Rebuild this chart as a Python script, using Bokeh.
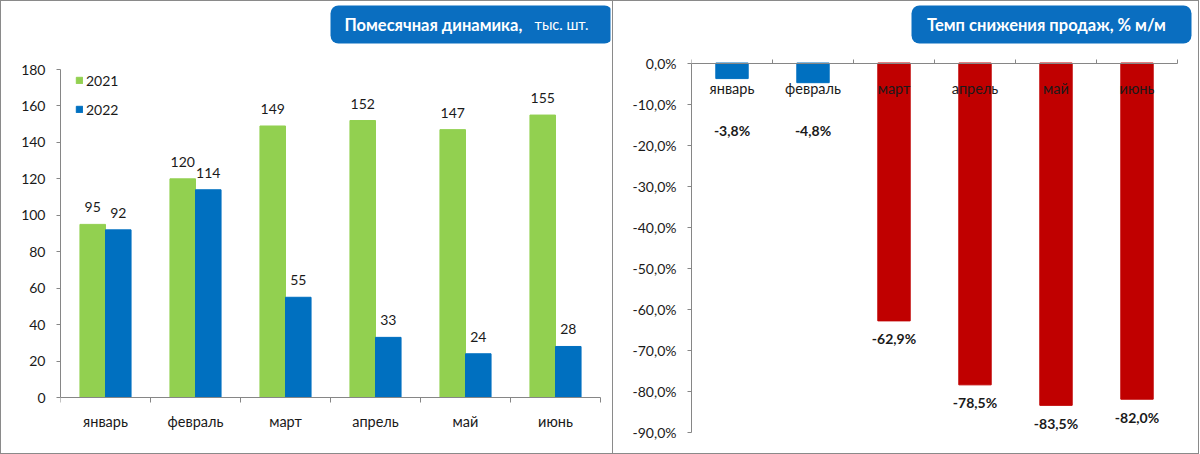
from bokeh.plotting import figure
from bokeh.models import (Range1d, FixedTicker, CustomJSTickFormatter,
                          ColumnDataSource, Legend, LegendItem)
from bokeh.layouts import row
from bokeh.embed import file_html
from bokeh.resources import INLINE
from bokeh.core.properties import value

# ---------------- data ----------------
months = ["январь", "февраль", "март", "апрель", "май", "июнь"]
sales_2021 = [95, 120, 149, 152, 147, 155]
sales_2022 = [92, 114, 55, 33, 24, 28]
decline_pct = [-3.8, -4.8, -62.9, -78.5, -83.5, -82.0]
left_ticks = [0, 20, 40, 60, 80, 100, 120, 140, 160, 180]
right_ticks = [0, -10, -20, -30, -40, -50, -60, -70, -80, -90]
series_names = ["2021", "2022"]
title_left_bold = "Помесячная динамика,"
title_left_normal = "тыс. шт."
title_right = "Темп снижения продаж, % м/м"

# ---------------- style ----------------
FONT = "Lato"
GREEN = "#92D050"
BLUE = "#0070C0"
RED = "#C00000"
BOXBLUE = "#0A6EC0"
AXIS = "#868686"
TXT = "#1a1a1a"
BORDER = "#8a8a8a"
H = 452
W1, W2 = 611, 586
BOTTOM = 18                   # shared bottom border (frames are aligned in a row)
FRAME_H = H - BOTTOM

centers = [i + 0.5 for i in range(len(months))]
boundaries = list(range(len(months) + 1))
month_fmt = CustomJSTickFormatter(args=dict(labels=months),
                                  code="return labels[Math.floor(tick)] || '';")

# ================= left chart =================
L_LEFT, L_RIGHT = 59, 2
L_CAT = 90.0                 # px per month
L_ZERO = 396.0               # canvas y of value 0
L_PXU = 328.0 / 180.0        # px per unit
p1 = figure(width=W1, height=H, output_backend="svg", toolbar_location=None, title=None,
            x_range=Range1d(0, (W1 - L_LEFT - L_RIGHT) / L_CAT),
            y_range=Range1d(-(FRAME_H - L_ZERO) / L_PXU, L_ZERO / L_PXU),
            min_border_left=L_LEFT, min_border_right=L_RIGHT,
            min_border_top=0, min_border_bottom=BOTTOM)
p1.outline_line_color = None
p1.grid.visible = False


def lx(px):
    return (px - L_LEFT) / L_CAT


def ly(py):
    return (L_ZERO - py) / L_PXU


dx = 0.142
src1 = ColumnDataSource(dict(
    x21=[c - dx for c in centers], x22=[c + dx for c in centers],
    y21=sales_2021, y22=sales_2022,
    t21=[str(v) for v in sales_2021], t22=[str(v) for v in sales_2022]))

r21 = p1.vbar(x="x21", top="y21", bottom=0, width=0.284, source=src1,
              fill_color=GREEN, line_color=GREEN)
r22 = p1.vbar(x="x22", top="y22", bottom=0, width=0.284, source=src1,
              fill_color=BLUE, line_color=BLUE)
for xc, yc, tc in (("x21", "y21", "t21"), ("x22", "y22", "t22")):
    p1.text(x=xc, y=yc, text=tc, source=src1,
            text_align="center", text_baseline="middle", y_offset=-17,
            text_font=value(FONT), text_font_size="14px", text_color=TXT)

# legend: top-left of the frame area, just under the 180 tick
legend = Legend(items=[LegendItem(label=series_names[0], renderers=[r21]),
                       LegendItem(label=series_names[1], renderers=[r22])],
                location=(15, int(FRAME_H - L_ZERO + 279)), padding=0, margin=0,
                spacing=11, glyph_width=8, glyph_height=8, label_height=18,
                label_standoff=3, label_text_font=FONT, label_text_font_size="14px",
                label_text_color=TXT, background_fill_alpha=0, border_line_alpha=0)
p1.add_layout(legend)

xa = p1.xaxis[0]
xa.fixed_location = 0
xa.bounds = (0, len(months))
xa.ticker = FixedTicker(ticks=centers, minor_ticks=boundaries)
xa.formatter = month_fmt
xa.axis_line_color = AXIS
xa.major_tick_in = 0
xa.major_tick_out = 0
xa.minor_tick_in = 0
xa.minor_tick_out = 5
xa.minor_tick_line_color = AXIS
xa.major_label_standoff = 10
xa.major_label_text_font = FONT
xa.major_label_text_font_size = "14.5px"
xa.major_label_text_color = TXT

ya = p1.yaxis[0]
ya.bounds = (left_ticks[0], left_ticks[-1])
ya.ticker = FixedTicker(ticks=left_ticks, minor_ticks=[])
ya.axis_line_color = AXIS
ya.major_tick_line_color = AXIS
ya.major_tick_in = 0
ya.major_tick_out = 4
ya.major_label_standoff = 11
ya.major_label_text_font = FONT
ya.major_label_text_font_size = "14px"
ya.major_label_text_color = TXT

# title box (decoration)
p1.quad(left=[lx(329)], right=[lx(611)], top=[ly(4)], bottom=[ly(42)],
        fill_color=BOXBLUE, line_color=None, border_radius=8)
p1.text(x=[lx(343)], y=[ly(23)], text=[title_left_bold], text_color="white",
        text_font=value(FONT), text_font_style="bold", text_font_size="16.5px",
        text_baseline="middle", text_align="left")
p1.text(x=[lx(587)], y=[ly(23)], text=[title_left_normal], text_color="white",
        text_font=value(FONT), text_font_size="14.5px",
        text_baseline="middle", text_align="right")

# ================= right chart =================
R_LEFT, R_RIGHT = 78, 2
R_CAT = 81.0
R_ZERO = 61.5                 # canvas y of 0 %
R_PXU = 4.1                   # px per percent
p2 = figure(width=W2, height=H, output_backend="svg", toolbar_location=None, title=None,
            x_range=Range1d(0, (W2 - R_LEFT - R_RIGHT) / R_CAT),
            y_range=Range1d(-(FRAME_H - R_ZERO) / R_PXU, R_ZERO / R_PXU),
            min_border_left=R_LEFT, min_border_right=R_RIGHT,
            min_border_top=0, min_border_bottom=BOTTOM)
p2.outline_line_color = None
p2.grid.visible = False


def rx(px):
    return (px - R_LEFT) / R_CAT


def ry(py):
    return (R_ZERO - py) / R_PXU


label_floor = -12.0
src2 = ColumnDataSource(dict(
    x=centers, v=decline_pct,
    color=[RED if v < -10 else BLUE for v in decline_pct],
    ly=[min(v, label_floor) for v in decline_pct],
    t=[("%.1f" % v).replace(".", ",") + "%" for v in decline_pct]))
p2.vbar(x="x", top=0, bottom="v", width=0.4, source=src2,
        fill_color="color", line_color="color")
p2.text(x="x", y="ly", text="t", source=src2, text_align="center",
        text_baseline="middle", y_offset=18, text_font=value(FONT),
        text_font_size="14px", text_font_style="bold", text_color=TXT)

xa2 = p2.xaxis[0]
xa2.fixed_location = 0
xa2.bounds = (0, len(months))
xa2.ticker = FixedTicker(ticks=centers, minor_ticks=boundaries)
xa2.formatter = month_fmt
xa2.axis_line_color = AXIS
xa2.major_tick_in = 0
xa2.major_tick_out = 0
xa2.minor_tick_in = 4
xa2.minor_tick_out = 0
xa2.minor_tick_line_color = AXIS
xa2.major_label_standoff = 17
xa2.major_label_text_font = FONT
xa2.major_label_text_font_size = "14.5px"
xa2.major_label_text_color = TXT

ya2 = p2.yaxis[0]
ya2.bounds = (right_ticks[-1], right_ticks[0])
ya2.ticker = FixedTicker(ticks=right_ticks, minor_ticks=[])
ya2.formatter = CustomJSTickFormatter(code="return tick.toFixed(1).replace('.', ',') + '%';")
ya2.axis_line_color = AXIS
ya2.major_tick_line_color = AXIS
ya2.major_tick_in = 0
ya2.major_tick_out = 4
ya2.major_label_standoff = 11
ya2.major_label_text_font = FONT
ya2.major_label_text_font_size = "14px"
ya2.major_label_text_color = TXT

p2.quad(left=[rx(298)], right=[rx(578)], top=[ry(4)], bottom=[ry(42)],
        fill_color=BOXBLUE, line_color=None, border_radius=8)
p2.text(x=[rx(433)], y=[ry(23)], text=[title_right], text_color="white",
        text_font=value(FONT), text_font_style="bold", text_font_size="16.5px",
        text_baseline="middle", text_align="center")

p2.styles = {"border-left": "1px solid " + BORDER}
layout = row(p1, p2, spacing=0, styles={"border": "1px solid " + BORDER})
open("out.html", "w").write(file_html(layout, INLINE))
